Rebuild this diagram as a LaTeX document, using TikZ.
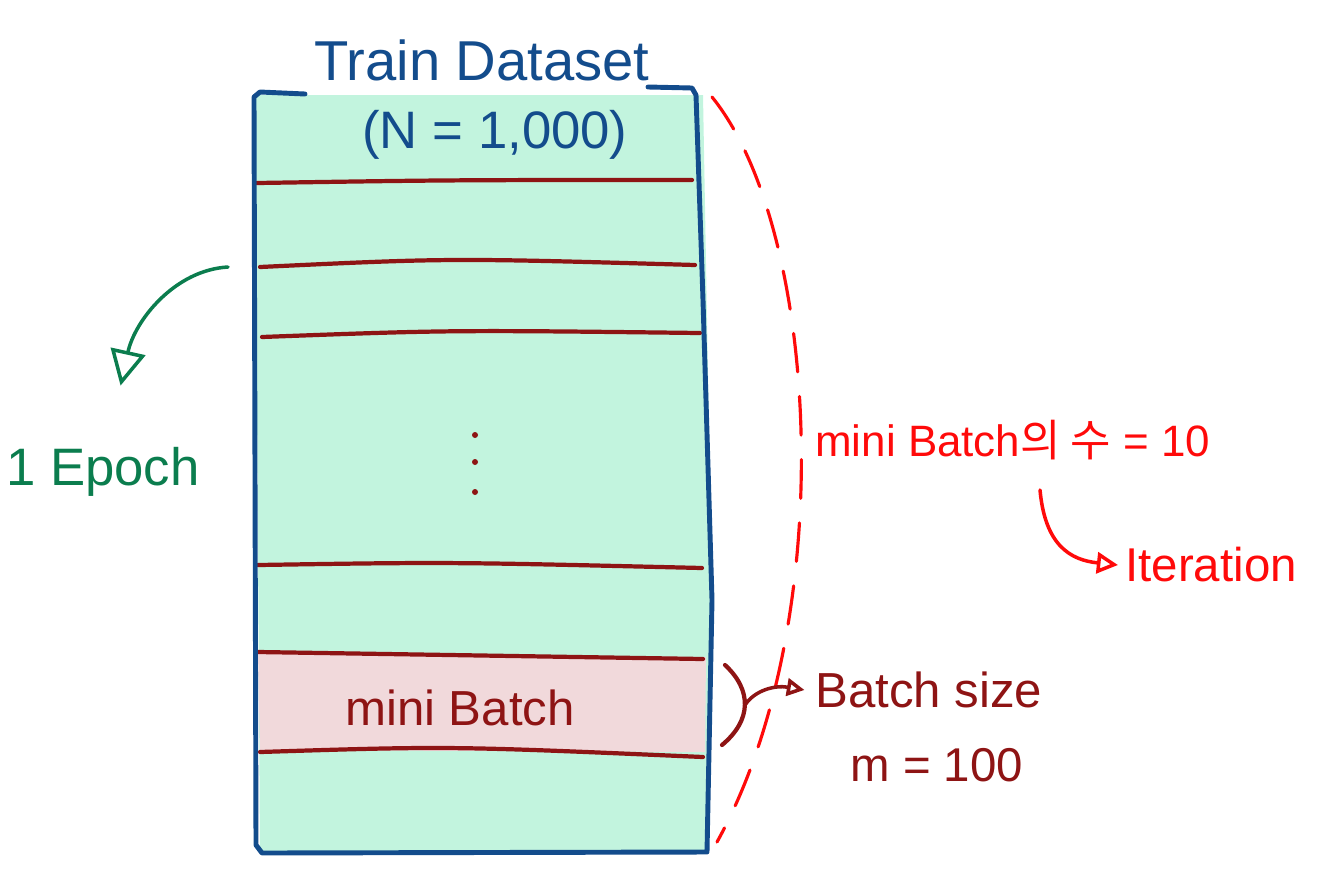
\documentclass[tikz,border=0pt]{standalone}
\usepackage{fontspec}
\setmainfont{Liberation Sans}
\newfontfamily\kr{Noto Sans CJK KR}
\usepackage{tikz}
\usetikzlibrary{arrows.meta}
\usepackage{xcolor}
\definecolor{dsblue}{HTML}{134C8C}
\definecolor{dsmint}{HTML}{C2F4DE}
\definecolor{dsred}{HTML}{8E1414}
\definecolor{dspink}{HTML}{F1D9DB}
\definecolor{epgreen}{HTML}{0B7D4E}
\definecolor{itred}{HTML}{FF0A0A}

\tikzset{
  batchline/.style={dsred,line width=2.4pt,line cap=round},
  hand/.style={inner sep=0pt,font=\fontsize{#1}{#1}\selectfont},
  hand/.default=28pt,
  tip/.style={-{Triangle[open,length=#1,width=#1]},line width=2pt,line cap=round},
  tip/.default=10pt
}

\begin{document}
\begin{tikzpicture}[x=0.02cm,y=-0.02cm]
  \useasboundingbox (0,0) rectangle (1321,883);
  % dataset box
  \fill[dsmint] (255,95) -- (703,95) -- (712,600) -- (707,852) -- (260,852) -- cycle;
  \fill[dspink] (258,652) -- (706,657) -- (705,752) -- (260,750) -- cycle;
  \draw[batchline] (257,183) .. controls (450,180) .. (692,180);
  \draw[batchline] (260,267) .. controls (450,258) .. (695,265);
  \draw[batchline] (262,337) .. controls (450,330) .. (700,333);
  \draw[batchline] (258,565) .. controls (450,562) .. (702,568);
  \draw[batchline] (258,652) .. controls (450,655) .. (703,659);
  \draw[batchline] (260,752) .. controls (450,746) .. (703,757);
  \foreach \y in {435,462,492}
    \fill[dsred] (475,\y) circle (3);
  \draw[dsblue,line width=2.8pt,line cap=round,line join=round]
    (648,87) -- (692,88) -- (696,95) -- (703,300) -- (712,600) -- (707,852)
    -- (262,853) -- (256,845) -- (254,97) -- (260,92) -- (305,94);
  \node[hand=32pt,dsblue] (title) at (482,60) {Train Dataset};
  \node[hand=30pt,dsblue] (count) at (495,135) {(N = 1,000)};
  \node[hand=28pt,dsred] (mini) at (460,708) {mini Batch};
  % epoch
  \coordinate (epstart) at (228,267);
  \node[hand=30pt,epgreen] (epoch) at (103,472) {1 Epoch};
  \draw[epgreen,tip=20pt] (epstart) .. controls (175,270) and (135,320) .. ([xshift=10pt,yshift=35pt]epoch.north);
  % iterations
  \coordinate (dtop) at (712,97);
  \coordinate (dbot) at (717,842);
  \draw[itred,line width=1.8pt,dash pattern=on 22pt off 14pt,line cap=round]
    (dtop) .. controls (820,230) and (840,620) .. (dbot);
  \node[hand=25pt,itred,anchor=west] (nbatch) at (815,440) {mini Batch{\kr 의 수} = 10};
  \node[hand=27pt,itred,anchor=west] (iter) at (1125,565) {Iteration};
  \coordinate (itstart) at (1040,490);
  \draw[itred,tip=12pt] (itstart) .. controls (1045,545) and (1070,560) .. ([xshift=-4pt]iter.west);
  % batch size
  \coordinate (brtop) at (725,665);
  \coordinate (brbot) at (722,745);
  \draw[dsred,line width=2.4pt,line cap=round] (brtop) .. controls (752,690) and (752,720) .. (brbot);
  \node[hand=28pt,dsred,anchor=west] (bsize) at (815,690) {Batch size};
  \node[hand=27pt,dsred,anchor=west] (msize) at (850,765) {m = 100};
  \coordinate (bsstart) at (745,705);
  \draw[dsred,tip] (bsstart) .. controls (755,690) and (775,685) .. ([xshift=-6pt]bsize.west);
\end{tikzpicture}
\end{document}
